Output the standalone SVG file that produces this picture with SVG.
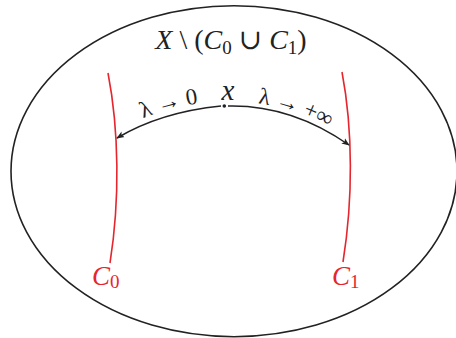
<svg xmlns="http://www.w3.org/2000/svg" width="456" height="338" viewBox="0 0 456 338">
<style>
text{font-family:'Liberation Serif','DejaVu Serif',serif;fill:#222}
.i{font-style:italic}
.red{fill:#e5262e}
.sub{font-size:19px}
.curve{fill:none;stroke:#e5262e;stroke-width:1.6}
.arr{fill:none;stroke:#222;stroke-width:1.5;marker-end:url(#ah)}
</style>
<defs>
<marker id="ah" viewBox="0 0 10 10" refX="9" refY="5" markerWidth="8" markerHeight="8" markerUnits="userSpaceOnUse" orient="auto">
<path d="M0,1 L10,5 L0,9 L2.5,5 Z" fill="#222"/>
</marker>
<path id="lp0" d="M118,131 Q161,105 220,101"/>
<path id="lp1" d="M229,102 Q291,100 349,140"/>
</defs>
<rect width="456" height="338" fill="#fff"/>
<g id="space">
<ellipse cx="234" cy="171.2" rx="223" ry="165.5" fill="none" stroke="#222" stroke-width="1.6"/>
<text x="231" y="49" font-size="28" text-anchor="middle"><tspan class="i">X</tspan> \ (<tspan class="i">C</tspan><tspan class="sub" dy="5">0</tspan><tspan dy="-5"> ∪ </tspan><tspan class="i">C</tspan><tspan class="sub" dy="5">1</tspan><tspan dy="-5">)</tspan></text>
</g>
<g id="C0">
<path class="curve" d="M108,73 C119,130 120,200 110,263"/>
<text class="red" x="92" y="285" font-size="27"><tspan class="i">C</tspan><tspan class="sub" dy="3">0</tspan></text>
</g>
<g id="C1">
<path class="curve" d="M342,72 C353,130 353,200 343,262"/>
<text class="red" x="332" y="285" font-size="27"><tspan class="i">C</tspan><tspan class="sub" dy="3">1</tspan></text>
</g>
<g id="x">
<circle cx="224.3" cy="106" r="1.8" fill="#222"/>
<text class="i" x="228" y="100" font-size="29" text-anchor="middle">x</text>
</g>
<g id="connectors">
<path class="arr" d="M221,106 Q161,112 117,138"/>
<path class="arr" d="M228,106 Q291,104.5 349,145"/>
<text font-size="23"><textPath href="#lp0" startOffset="53%" text-anchor="middle">λ → 0</textPath></text>
<text font-size="23"><textPath href="#lp1" startOffset="52%" text-anchor="middle">λ → +∞</textPath></text>
</g>
</svg>
